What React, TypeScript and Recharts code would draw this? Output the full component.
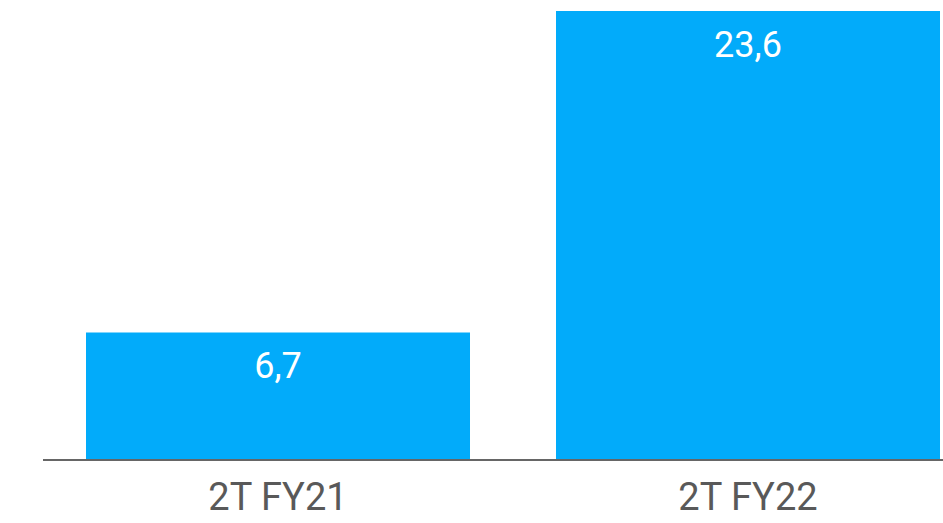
import React from 'react';
import { BarChart, Bar, XAxis, YAxis, LabelList } from 'recharts';

const categories = ['2T FY21', '2T FY22'];
const values = [6.7, 23.6];
const valueLabels = ['6,7', '23,6'];

const data = categories.map((c, i) => ({ name: c, value: values[i], label: valueLabels[i] }));

export default function App() {
  return (
    <div style={{ position: 'absolute', left: 0, top: 0, width: 943, height: 523, overflow: 'hidden', background: '#fff' }}>
      <BarChart
        width={983}
        height={523}
        data={data}
        margin={{ top: 11, right: 0, bottom: 0, left: 43 }}
        barCategoryGap="9.15%"
      >
        <XAxis
          dataKey="name"
          axisLine={{ stroke: '#666666', strokeWidth: 2 }}
          tickLine={false}
          tickSize={0}
          tickMargin={23}
          height={63}
          tick={{ fill: '#595959', fontSize: 38, fontFamily: 'Roboto' }}
          interval={0}
        />
        <YAxis hide domain={[0, 23.6]} />
        <Bar dataKey="value" fill="#02ABFA" isAnimationActive={false}>
          <LabelList
            dataKey="label"
            position="insideTop"
            offset={20}
            fill="#ffffff"
            style={{ fontSize: 36, fontFamily: 'Roboto' }}
          />
        </Bar>
      </BarChart>
    </div>
  );
}
